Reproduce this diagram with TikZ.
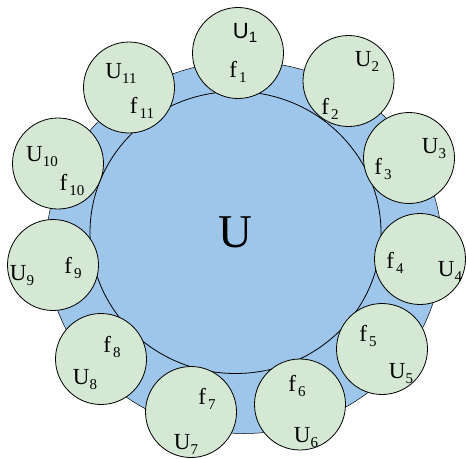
\documentclass[tikz,border=0pt]{standalone}
\usepackage{fontspec}
\setmainfont{Liberation Serif}
\newfontfamily\arialfont{Liberation Sans}
\definecolor{ringblue}{RGB}{157,198,234}
\definecolor{leafgreen}{RGB}{213,232,212}
% letter with a lowered index
\newcommand{\usub}[2]{#1\raisebox{-0.22em}{\fontsize{15}{15}\selectfont #2}}

\begin{document}
\begin{tikzpicture}[x=1pt, y=-1pt,
  ucirc/.style={circle, draw=black, fill=leafgreen, line width=0.8pt, minimum size=91pt, inner sep=0pt},
  lbl/.style={inner sep=0pt, font=\fontsize{23}{23}\selectfont}]

\clip (0,0) rectangle (466,458);

% Centres of the outer ring and the inner disc
\coordinate (O) at (244,247.5);
\coordinate (I) at (235.5,232.5);

% Outer ring and inner disc
\fill[ringblue, draw=black, line width=0.5pt] (O) ellipse [x radius=198, y radius=186];
\fill[ringblue, draw=black, line width=0.8pt] (I) ellipse [x radius=145.5, y radius=141];
\node[inner sep=0pt, font=\fontsize{47}{47}\selectfont] (bigU) at (235,232) {U};

% Small discs around the ring
\foreach \n/\cx/\cy in {1/238/53, 2/348.5/81, 3/409/158, 4/420/259, 5/382/349, 6/300/404.5,
                        7/191/412, 8/101/359, 9/53/265, 10/58/163.5, 11/129/87.5} {
    \node[ucirc] (u\n) at (\cx,\cy) {};
}

% Labels inside the discs
\node[lbl, font=\fontsize{22}{22}\selectfont\arialfont] (ul1) at (245,33) {\usub{U}{1}};
\node[lbl] (fl1) at (238,72) {f\kern2pt\usub{}{1}};
\foreach \n/\ux/\uy/\fx/\fy in {2/367/61/330/109, 3/434/149/383/169, 4/450/271/395/263,
                                5/401/374/368/336, 6/306/438/297/386, 7/186/444/207/399,
                                8/85/380/112/347, 9/22/276/73/268, 10/42/157/72/185,
                                11/121/73/142/108} {
    \node[lbl] (ul\n) at (\ux,\uy) {\usub{U}{\n}};
    \node[lbl] (fl\n) at (\fx,\fy) {f\kern2pt\usub{}{\n}};
}
\end{tikzpicture}
\end{document}
